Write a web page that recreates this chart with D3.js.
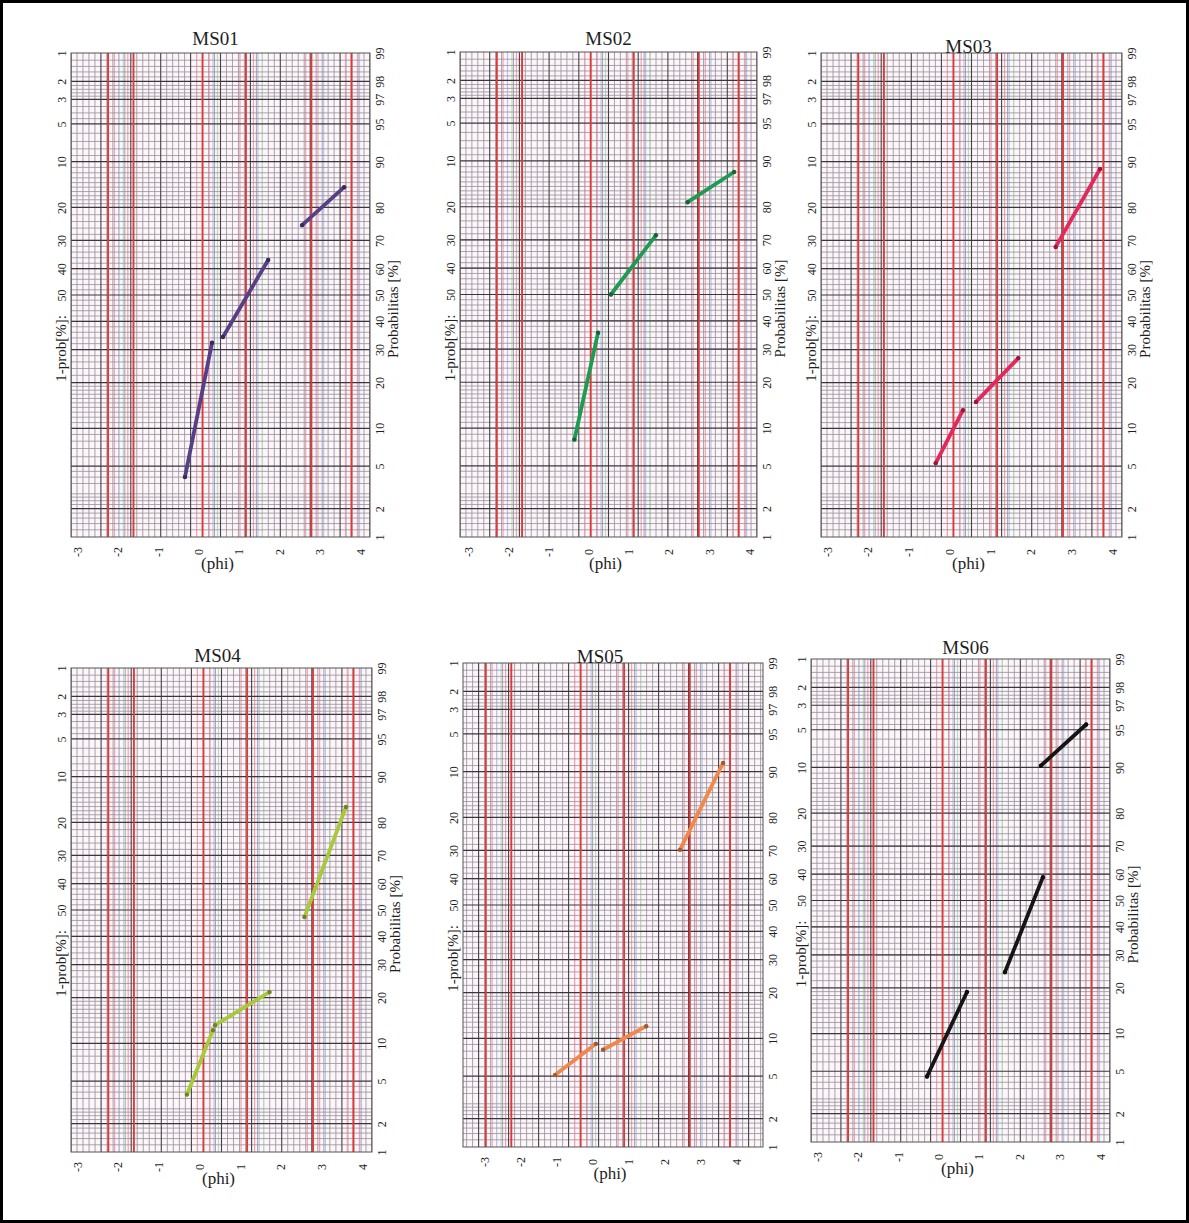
<!DOCTYPE html>
<html>
<head>
<meta charset="utf-8">
<script src="https://cdn.jsdelivr.net/npm/d3@7"></script>
<style>
    body { margin: 0; background: #fff; }
    svg { display: block; }
    text { font-family: "Liberation Serif", "DejaVu Serif", serif; fill: #1e1e1e; }
    .tick text { font-size: 12px; }
    .chart_title { font-size: 19px; }
    .axis_title { font-size: 15px; }
    .phi_title { font-size: 17px; }
</style>
</head>
<body>
<div id="chart"></div>
<script>
// sample names and line colours
const titles = ["MS01", "MS02", "MS03", "MS04", "MS05", "MS06"]
const colors = ["#573f86", "#1f9a52", "#e3285c", "#a9c93c", "#f0884e", "#151515"]

// tick labels
const phiTicks = [-3, -2, -1, 0, 1, 2, 3, 4]
const leftTicks = [1, 2, 3, 5, 10, 20, 30, 40, 50]
const rightTicks = [99, 98, 97, 95, 90, 80, 70, 60, 50, 40, 30, 20, 10, 5, 2, 1]

// segments: [phi, cumulative %]
const ms01 = [[[-0.33, 4.0], [0.34, 32.3]], [[0.61, 34.3], [1.73, 63.2]], [[2.57, 74.9], [3.61, 85.0]]]
const ms02 = [[[-0.35, 8.2], [0.24, 35.7]], [[0.56, 50.0], [1.68, 71.5]], [[2.47, 81.2], [3.63, 88.0]]]
const ms03 = [[[-0.33, 5.3], [0.34, 13.4]], [[0.66, 15.2], [1.70, 27.2]], [[2.62, 67.8], [3.71, 88.7]]]
const ms04 = [[[-0.30, 3.8], [0.34, 12.4]], [[0.39, 13.4], [1.73, 21.5]], [[2.59, 47.3], [3.61, 83.9]]]
const ms05 = [[[-1.04, 5.1], [0.10, 9.1]], [[0.30, 8.2], [1.50, 12.2]], [[2.44, 70.2], [3.64, 91.4]]]
const ms06 = [[[-0.28, 4.5], [0.71, 18.9]], [[1.65, 24.5], [2.59, 58.9]], [[2.54, 90.3], [3.66, 95.5]]]
const series = [ms01, ms02, ms03, ms04, ms05, ms06]

// the printed paper: red class lines as a fraction of the sheet width
const redLines = [0.124, 0.209, 0.44, 0.585, 0.804, 0.938]
const pinkLines = [0.145, 0.19, 0.42, 0.462, 0.565, 0.61, 0.785, 0.826, 0.918, 0.958]
const blueLines = [0.16, 0.475, 0.625, 0.845, 0.965]
const greenLines = [0.175, 0.49, 0.64]

// where each panel sits on the page
const layout = [
    {left: 71, top: 53, w: 299, h: 484, phi: [-3.15, 4.25], paper: 0, tdx: -5, tdy: -8, right: true},
    {left: 460, top: 52, w: 297, h: 485, phi: [-3.2, 4.2], paper: 0, tdx: 0, tdy: -7, right: true},
    {left: 821, top: 53, w: 301, h: 484, phi: [-3.15, 4.25], paper: 0, tdx: -3, tdy: 0, right: true},
    {left: 71, top: 668, w: 301, h: 484, phi: [-3.15, 4.25], paper: 0, tdx: -4, tdy: -6, right: true},
    {left: 463, top: 663, w: 300, h: 484, phi: [-3.6, 4.75], paper: 0.048, tdx: -13, tdy: 0, right: false},
    {left: 811, top: 659, w: 299, h: 483, phi: [-3.15, 4.25], paper: 0, tdx: 5, tdy: -5, right: true}
]

// inverse normal cdf (Acklam)
function probit(p) {
    const a = [-39.69683028665376, 220.9460984245205, -275.9285104469687, 138.3577518672690, -30.66479806614716, 2.506628277459239]
    const b = [-54.47609879822406, 161.5858368580409, -155.6989798598866, 66.80131188771972, -13.28068155288572]
    const c = [-0.007784894002430293, -0.3223964580411365, -2.400758277161838, -2.549671010114820, 4.374664141464968, 2.938163982698783]
    const d = [0.007784695709041462, 0.3224671290700398, 2.445134137142996, 3.754408661907416]
    const pl = 0.02425
    let q, r
    if (p < pl) {
        q = Math.sqrt(-2 * Math.log(p))
        return (((((c[0]*q+c[1])*q+c[2])*q+c[3])*q+c[4])*q+c[5]) / ((((d[0]*q+d[1])*q+d[2])*q+d[3])*q+1)
    }
    if (p > 1 - pl) {
        q = Math.sqrt(-2 * Math.log(1 - p))
        return -(((((c[0]*q+c[1])*q+c[2])*q+c[3])*q+c[4])*q+c[5]) / ((((d[0]*q+d[1])*q+d[2])*q+d[3])*q+1)
    }
    q = p - 0.5; r = q * q
    return (((((a[0]*r+a[1])*r+a[2])*r+a[3])*r+a[4])*r+a[5])*q / (((((b[0]*r+b[1])*r+b[2])*r+b[3])*r+b[4])*r+1)
}

// horizontal rulings of the probability paper (in %)
function paperProbs() {
    let v = []
    v = v.concat(d3.range(1.2, 2, 0.2), d3.range(2.2, 3, 0.2), d3.range(3.5, 5, 0.5),
        d3.range(6, 10, 1), d3.range(11, 20, 1), d3.range(22, 50, 2))
    v = v.concat(v.map(p => 100 - p))
    return v
}

const svg = d3.select("#chart")
    .append("svg")
    .attr("width", 1189)
    .attr("height", 1223)

svg.append("rect")
    .attr("x", 1.5).attr("y", 1.5)
    .attr("width", 1186).attr("height", 1220)
    .attr("fill", "#fff")
    .attr("stroke", "#000")
    .attr("stroke-width", 3)

function draw(i) {
    const L = layout[i]
    const width = L.w, height = L.h

    const g = svg.append("g")
        .attr("transform", "translate(" + L.left + "," + L.top + ")")

    const x = d3.scaleLinear().domain(L.phi).range([0, width])
    const paper = d3.scaleLinear().domain([L.paper, L.paper + 1]).range([0, width])
    const z = d3.scaleLinear().domain([probit(0.01), probit(0.99)]).range([height, 0])
    const y = p => z(probit(p / 100))

    g.append("clipPath").attr("id", "clip" + i)
        .append("rect").attr("width", width).attr("height", height)

    const grid = g.append("g").attr("clip-path", "url(#clip" + i + ")")
    grid.append("rect").attr("width", width).attr("height", height).attr("fill", "#fcf6f8")

    // fine vertical rulings
    const fine = d3.range(0, 1.2, 0.02).filter(f => Math.round(f * 50) % 5 !== 0)
    grid.selectAll(".vfine").data(fine).join("line")
        .attr("x1", d => paper(d)).attr("x2", d => paper(d))
        .attr("y1", 0).attr("y2", height)
        .attr("stroke", "#918d9a").attr("stroke-width", 0.8)

    const colorLines = [[pinkLines, "#f0a3b1"], [blueLines, "#b9c4e8"], [greenLines, "#b8dcc2"]]
    colorLines.forEach(([arr, col]) => {
        grid.append("g").selectAll("line").data(arr).join("line")
            .attr("x1", d => paper(d)).attr("x2", d => paper(d))
            .attr("y1", 0).attr("y2", height)
            .attr("stroke", col).attr("stroke-width", 1.2)
    })

    // fine horizontal rulings
    grid.selectAll(".hfine").data(paperProbs()).join("line")
        .attr("x1", 0).attr("x2", width)
        .attr("y1", d => y(d)).attr("y2", d => y(d))
        .attr("stroke", "#978f9b").attr("stroke-width", 0.8)

    // heavy rulings
    grid.selectAll(".vdark").data(d3.range(0, 1.2, 0.1)).join("line")
        .attr("x1", d => paper(d)).attr("x2", d => paper(d))
        .attr("y1", 0).attr("y2", height)
        .attr("stroke", "#45414b").attr("stroke-width", 1.1)

    grid.selectAll(".hdark").data(rightTicks.slice(1, -1)).join("line")
        .attr("x1", 0).attr("x2", width)
        .attr("y1", d => y(d)).attr("y2", d => y(d))
        .attr("stroke", "#3a363e").attr("stroke-width", 1.2)

    grid.selectAll(".vred").data(redLines).join("line")
        .attr("x1", d => paper(d)).attr("x2", d => paper(d))
        .attr("y1", 0).attr("y2", height)
        .attr("stroke", "#dc3a3a").attr("stroke-width", 1.9)

    g.append("rect")
        .attr("width", width).attr("height", height)
        .attr("fill", "none").attr("stroke", "#555").attr("stroke-width", 1)

    // x axis
    const xa = g.append("g")
        .attr("class", "tick")
        .attr("transform", "translate(0," + height + ")")
        .call(d3.axisBottom(x).tickValues(phiTicks).tickSize(0).tickFormat(d3.format("d")))
    xa.select(".domain").remove()
    xa.selectAll("text")
        .attr("y", 0).attr("dy", "0.35em")
        .attr("text-anchor", "middle")
        .attr("transform", "translate(0,15) rotate(-90)")
        .text(d => d < 0 ? "-" + Math.abs(d) : d)

    // left axis, 1-prob
    const ya = g.append("g")
        .call(d3.axisLeft(z)
            .tickValues(leftTicks.map(v => probit(1 - v / 100)))
            .tickFormat((d, k) => leftTicks[k])
            .tickSize(0))
    ya.select(".domain").remove()
    ya.selectAll("text")
        .attr("x", 0).attr("dy", 0)
        .attr("text-anchor", "middle")
        .attr("transform", "translate(-5,0) rotate(-90)")

    // right axis, probability
    const yr = g.append("g")
        .attr("transform", "translate(" + width + ",0)")
        .call(d3.axisRight(z)
            .tickValues(rightTicks.map(v => probit(v / 100)))
            .tickFormat((d, k) => rightTicks[k])
            .tickSize(0))
    yr.select(".domain").remove()
    yr.selectAll("text")
        .attr("x", 0).attr("dy", 0)
        .attr("text-anchor", "middle")
        .attr("transform", "translate(14,0) rotate(-90)")

    g.append("text")
        .attr("class", "axis_title")
        .attr("text-anchor", "end")
        .attr("transform", "translate(-5," + (y(50) + 20) + ") rotate(-90)")
        .text("1-prob[%]:")

    if (L.right) {
        g.append("text")
            .attr("class", "axis_title")
            .attr("text-anchor", "middle")
            .attr("transform", "translate(" + (width + 28) + "," + (height / 2 + 14) + ") rotate(-90)")
            .text("Probabilitas [%]")
    }

    g.append("text")
        .attr("class", "phi_title")
        .attr("text-anchor", "middle")
        .attr("x", width / 2 - 3)
        .attr("y", height + 32)
        .text("(phi)")

    g.append("text")
        .attr("class", "chart_title")
        .attr("text-anchor", "middle")
        .attr("x", width / 2 + L.tdx)
        .attr("y", L.tdy)
        .text(titles[i])

    // the fitted segments
    const line = d3.line().x(d => x(d[0])).y(d => y(d[1]))
    g.selectAll(".seg").data(series[i]).join("path")
        .attr("fill", "none")
        .attr("stroke", colors[i])
        .attr("stroke-width", 3.8)
        .attr("stroke-linecap", "round")
        .attr("d", line)
    g.selectAll(".end").data(series[i].flat()).join("circle")
        .attr("cx", d => x(d[0])).attr("cy", d => y(d[1]))
        .attr("r", 2.2)
        .attr("fill", d3.color(colors[i]).darker(1.2))
}

titles.forEach((t, i) => draw(i))
</script>
</body>
</html>
